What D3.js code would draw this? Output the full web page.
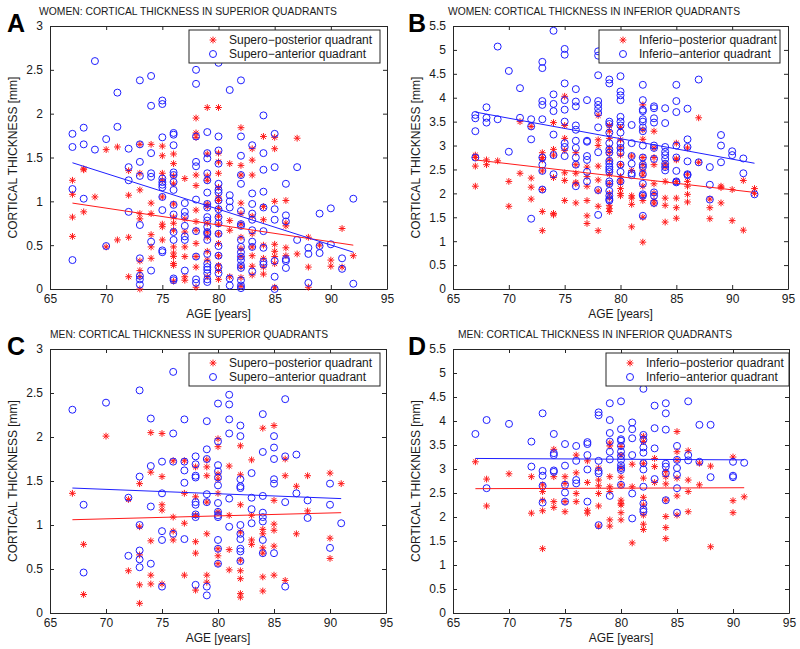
<!DOCTYPE html>
<html><head><meta charset="utf-8">
<script src="https://cdn.jsdelivr.net/npm/d3@7"></script>
<style>body{margin:0;background:#fff}svg{display:block}text{font-family:"Liberation Sans",Arial,sans-serif;fill:#1a1a1a}</style>
</head><body>
<script>
// ---------- DATA ----------
const xTicks = [65,70,75,80,85,90,95];
const yTicksSup = [0,0.5,1,1.5,2,2.5,3];
const yTicksInf = [0,0.5,1,1.5,2,2.5,3,3.5,4,4.5,5,5.5];
const titles = ["WOMEN: CORTICAL THICKNESS IN SUPERIOR QUADRANTS","WOMEN: CORTICAL THICKNESS IN INFERIOR QUADRANTS","MEN: CORTICAL THICKNESS IN SUPERIOR QUADRANTS","MEN: CORTICAL THICKNESS IN INFERIOR QUADRANTS"];
const letters = ["A","B","C","D"];
const legendSup = ["Supero\u2212posterior quadrant","Supero\u2212anterior quadrant"];
const legendInf = ["Inferio\u2212posterior quadrant","Inferio\u2212anterior quadrant"];
const xLabel = "AGE [years]";
const yLabel = "CORTICAL THICKNESS [mm]";

// Women, superior: [age, [values...]]
const wSupPost = [[67,[1.24,1.08,0.82,0.6]],[68,[1.37,1.36,0.88]],[69,[1.05]],[70,[1.59,0.48]],[71,[1.62,0.56]],[72,[1.35,1.07,0.59,0.14]],[73,[1.65,1.32,1.13,0.86,0.8,0.32,0.21,0.14,0.0]],[74,[1.65,0.98,0.86,0.62,0.48,0.35]],[75,[1.63,1.52,1.32,1.24,1.05,0.74,0.71,0.56]],[76,[1.54,1.43,1.29,1.2,0.97,0.82,0.75,0.67,0.48,0.41,0.37,0.29,0.27,0.09]],[77,[1.26,0.8,0.65,0.48,0.37,0.14,0.1]],[78,[1.95,1.78,1.73,1.3,1.18,0.9,0.77,0.67,0.52,0.37,0.25,0.02]],[79,[2.07,1.54,1.29,1.24,0.97,0.94,0.75,0.65,0.59,0.43,0.33,0.14]],[80,[2.07,1.55,1.45,1.32,1.16,1.05,1.01,0.92,0.83,0.74,0.63,0.52,0.38,0.27,0.21,0.11]],[81,[1.43,0.78,0.67,0.14]],[82,[1.84,1.41,1.3,0.98,0.86,0.74,0.59,0.46,0.37,0.25,0.13,0.03]],[83,[1.6,1.47,1.3,0.83,0.63,0.48,0.38,0.26,0.16]],[84,[1.74,0.94,0.79,0.5,0.35,0.25,0.17]],[85,[1.73,1.6,1.0,0.51,0.43,0.37,0.29,0.02]],[86,[1.01,0.75,0.72,0.47,0.38]],[87,[1.72,0.4]],[88,[0.59,0.25,0.02]],[89,[0.5]],[90,[0.33,0.26]],[91,[0.69,0.25]],[92,[0.38]]];
const wSupAnt = [[67,[1.77,1.62,1.14,0.33]],[68,[1.84,1.65,1.03]],[69,[2.6,1.59]],[70,[1.71,0.49]],[71,[2.24,1.85]],[72,[1.6,1.39,1.24,0.88]],[73,[2.38,1.65,1.45,1.29,0.73,0.35,0.15,0.11,0.05]],[74,[2.43,2.09,1.55,1.32,1.28,0.54,0.21]],[75,[2.15,2.11,1.73,1.26,1.22,1.19,1.16,1.05,0.9,0.44,0.42]],[76,[1.78,1.76,1.64,1.33,1.3,1.22,1.13,0.96,0.85,0.65,0.56,0.12,0.1]],[77,[0.98,0.88,0.83,0.72,0.6,0.56,0.21]],[78,[2.5,2.34,1.74,1.45,1.4,1.02,0.66,0.37,0.11,0.07]],[79,[1.79,1.55,1.49,1.32,1.24,1.1,0.97,0.93,0.82,0.78,0.71,0.65,0.63,0.56,0.4,0.29,0.25,0.22,0.18,0.11,0.08]],[80,[2.58,1.74,1.58,1.43,1.2,1.13,1.1,1.01,0.91,0.82,0.75,0.63,0.49,0.38,0.25,0.18]],[81,[2.27,1.07,1.0,0.93,0.12,0.04]],[82,[2.38,1.74,1.52,1.3,1.2,0.89,0.74,0.72,0.56,0.48,0.42,0.37,0.33,0.27,0.24,0.1,0.04,0.01]],[83,[1.64,1.09,0.97,0.86,0.79,0.67,0.54,0.48,0.2]],[84,[1.98,1.55,1.36,1.11,0.93,0.66,0.47,0.31,0.28]],[85,[1.77,1.39,0.91,0.79,0.32,0.14,0.0]],[86,[1.2,0.84,0.77,0.34,0.32,0.24]],[87,[1.39,0.56]],[88,[0.47,0.4,0.07]],[89,[0.86,0.49,0.41]],[90,[0.92,0.51]],[91,[0.35,0.23]],[92,[1.03,0.06]]];
const wSupFitPost = [[67,0.98],[92,0.5]];
const wSupFitAnt = [[67,1.44],[92,0.42]];

// Women, inferior
const wInfPost = [[67,[2.8,2.75,2.57,2.15]],[68,[2.7,2.6]],[69,[2.68]],[70,[2.25,1.73]],[71,[3.5,2.42]],[72,[3.4,2.32,2.13,1.88]],[73,[2.85,2.75,2.7,2.47,2.08,1.62,1.22]],[74,[3.48,2.92,2.8,2.33,1.58,1.55]],[75,[4.03,3.42,3.15,2.9,2.43,2.27,1.85]],[76,[2.85,2.6,2.42,2.23,2.2,1.8]],[77,[2.55,2.35,2.15,1.85,1.53,1.37]],[78,[3.63,3.12,3.0,2.57,2.28,2.05,1.73,1.22]],[79,[3.42,3.3,3.15,2.95,2.85,2.7,2.4,2.2,2.0,1.9,1.75,1.68,1.62]],[80,[3.38,3.12,2.95,2.8,2.6,2.35,2.28,2.22,2.1,2.0,1.95]],[81,[2.78,2.48,1.95,1.9,1.77,1.3]],[82,[3.85,3.33,3.13,2.75,2.6,2.47,2.38,2.15,1.95,1.85,1.5,0.98]],[83,[3.3,2.95,2.75,2.6,2.2,2.0,1.85,1.78]],[84,[2.62,2.55,2.25,1.9,1.75,1.4]],[85,[3.05,2.72,2.7,2.25,1.9,1.7,1.48]],[86,[2.95,2.4,2.25,2.15,1.98,1.82]],[87,[3.58,2.65]],[88,[1.88,1.7,1.47]],[89,[2.15,2.12,1.8]],[90,[2.08,1.43]],[91,[2.27,1.23]],[92,[2.1,2.0]]];
const wInfAnt = [[67,[3.64,3.57,3.3,2.75]],[68,[3.8,3.58,3.48]],[69,[5.07,3.55]],[70,[4.56,2.87]],[71,[4.2,3.58]],[72,[3.55,3.4,3.13,1.47]],[73,[4.75,4.62,3.93,3.85,3.55,2.75,2.6,2.47,2.08]],[74,[5.4,4.07,3.87,3.72,3.23,2.8,2.4]],[75,[5.02,4.9,4.3,3.95,3.75,3.5,3.05,2.97,2.78]],[76,[4.18,3.92,3.82,3.42,3.33,3.1,2.95,2.75,2.6,2.15]],[77,[3.95,3.1,3.08,2.78,2.7,2.45,2.25]],[78,[4.97,4.88,4.47,3.93,3.85,3.77,3.68,3.38,2.86,2.07,1.55]],[79,[4.38,4.3,3.5,3.45,3.27,3.05,2.92,2.85,2.68,2.62,2.55,2.5,2.45,2.25,2.2,2.05,1.95,1.88,1.85]],[80,[4.45,4.13,4.05,3.95,3.6,3.5,3.42,3.27,3.05,2.95,2.85,2.6,2.45,2.25]],[81,[3.43,3.05,2.78,2.62,2.42,2.38]],[82,[4.27,3.95,3.75,3.72,3.55,3.5,3.38,3.3,3.0,2.75,2.6,2.55,2.4,2.2,1.98,1.95,1.53]],[83,[3.82,3.78,3.57,3.48,3.0,2.95,2.72,2.02,1.95,1.8]],[84,[3.78,3.47,2.97,2.87,2.8,2.72,2.62,2.55,2.48]],[85,[4.27,3.93,3.7,3.0,2.75,2.47,2.25,2.23]],[86,[3.77,3.13,2.97,2.67,2.4,2.38]],[87,[4.38,2.65]],[88,[2.55,2.18,1.87]],[89,[3.22,3.0,2.65]],[90,[2.88,2.8]],[91,[2.73,2.42]],[92,[1.98]]];
const wInfFitPost = [[67,2.7],[92,2.02]];
const wInfFitAnt = [[67,3.7],[92,2.63]];

// Men, superior
const mSupPost = [[67,[1.36]],[68,[0.78,0.21]],[70,[2.01]],[72,[1.29,0.48]],[73,[1.47,0.98,0.66,0.32,0.11]],[74,[2.05,1.6,0.82,0.43,0.33]],[75,[2.04,1.55,1.23,1.17,0.33]],[76,[1.73,1.09,0.93,0.83]],[77,[1.73,1.36,1.02,0.43]],[78,[1.66,1.32,1.11,0.81,0.68,0.26]],[79,[1.74,1.66,1.56,1.26,0.9,0.43,0.35]],[80,[1.98,1.89,1.58,1.52,1.36,1.15,0.73,0.65,0.56]],[81,[1.67,1.11,0.72,0.49]],[82,[1.9,1.57,1.23,0.92,0.6,0.48,0.39,0.22,0.18]],[83,[1.74,1.11,0.83,0.78]],[84,[2.1,0.95,0.9,0.74,0.68,0.41,0.25]],[85,[2.13,1.28,1.01,0.94,0.76,0.43]],[86,[1.75,1.56,0.37]],[87,[1.44,0.9]],[88,[1.56,1.16]],[90,[1.59,0.85,0.62]],[91,[1.47]]];
const mSupAnt = [[67,[2.31]],[68,[1.23,0.46]],[70,[2.39]],[72,[1.31,0.65]],[73,[2.53,1.55,1.0,0.71,0.61,0.52]],[74,[2.21,1.67,1.21,0.56]],[75,[1.72,1.36,0.93,0.83,0.3]],[76,[2.74,2.04,1.72,0.9]],[77,[2.2,1.72,1.62,1.48,0.84]],[78,[1.78,1.69,1.56,1.54,1.26,1.23,1.12,1.09,0.32]],[79,[2.18,1.86,1.75,1.35,1.26,0.3,0.2]],[80,[2.38,1.95,1.68,1.61,1.54,1.45,1.25,1.15,1.11,1.09,0.83,0.73,0.56]],[81,[2.48,2.37,2.2,2.04,1.3,0.98]],[82,[2.13,2.01,1.52,1.44,1.42,1.0,0.9,0.84,0.73,0.7,0.59]],[83,[1.59,1.31,1.18,1.02]],[84,[2.26,1.83,1.33,1.14,1.09,1.04,0.83,0.68]],[85,[2.01,1.88,1.75,1.52,1.47,0.68]],[86,[2.43,1.78,1.26,0.3]],[87,[1.8,1.36]],[88,[1.28,1.08]],[90,[1.47,1.23,0.74]],[91,[1.02]]];
const mSupFitPost = [[67,1.06],[91,1.14]];
const mSupFitAnt = [[67,1.42],[91,1.3]];

// Men, inferior
const mInfPost = [[67,[3.15]],[68,[2.79,2.23]],[70,[2.9]],[72,[2.84,2.08]],[73,[2.67,2.53,2.35,2.13,1.34]],[74,[3.41,2.84,2.32,2.2]],[75,[2.84,2.7,2.32,2.11]],[76,[3.29,2.92,2.49,2.32]],[77,[3.17,2.72,2.14,2.08]],[78,[3.02,2.77,2.65,2.49,2.23,1.81]],[79,[3.54,3.48,2.84,2.63,2.53,1.94,1.81]],[80,[3.47,3.29,3.02,2.83,2.67,2.35,2.28,2.25,2.09,1.94]],[81,[3.1,2.63,1.46]],[82,[3.68,3.57,3.11,2.81,2.41,2.25,2.04,1.85,1.74]],[83,[3.22,3.05,2.72]],[84,[2.95,2.84,2.69,2.35,2.01,1.78,1.55]],[85,[3.78,3.36,3.19,2.81,2.44,2.04]],[86,[3.38,2.77,2.53,2.11]],[87,[3.12,2.67]],[88,[3.06,1.38]],[90,[3.25,2.34,2.09]],[91,[2.42]]];
const mInfAnt = [[67,[3.73]],[68,[4.02,2.6]],[70,[3.94]],[72,[3.57,3.05]],[73,[4.16,2.96,2.86,2.65,2.3]],[74,[3.73,3.33,3.29,2.97,2.94]],[75,[3.52,3.07,2.67,2.51,2.32]],[76,[3.48,3.17,2.77,2.7]],[77,[3.56,3.52,3.29,2.99,2.32]],[78,[4.18,4.12,3.17,2.96,2.91,1.83]],[79,[4.37,4.02,3.75,3.57,3.36,3.2,2.44]],[80,[4.41,3.83,3.62,3.59,3.48,3.36,3.27,3.19,3.08,3.02,2.98,2.67]],[81,[3.97,3.83,3.64,3.29,2.49,1.97]],[82,[4.67,3.71,3.61,3.45,3.34,3.12,2.99,2.63,2.28,2.16,2.11]],[83,[4.32,3.85,3.43,2.79]],[84,[4.37,4.16,3.82,3.11,3.05,2.91,2.35]],[85,[3.48,3.19,3.02,2.88,2.6,2.09]],[86,[4.41,3.29,3.18]],[87,[3.92,3.15]],[88,[3.92,2.83]],[90,[3.15,2.86,2.83]],[91,[3.13]]];
const mInfFitPost = [[67,2.59],[91,2.61]];
const mInfFitAnt = [[67,3.22],[91,3.19]];

// ---------- DRAW ----------
const RED = "#ff1a1a", BLUE = "#1f1fff", INK = "#262626";
const svg = d3.select("body").append("svg").attr("width",800).attr("height",649);

const panels = [
  {i:0, x:50, y:26, w:337, h:263, yMax:3, yT:yTicksSup, post:wSupPost, ant:wSupAnt, fp:wSupFitPost, fa:wSupFitAnt, leg:legendSup, lg:{x:189,y:30,w:191}, tx:39, tw:298, lx:7},
  {i:1, x:453, y:26, w:335, h:263, yMax:5.5, yT:yTicksInf, post:wInfPost, ant:wInfAnt, fp:wInfFitPost, fa:wInfFitAnt, leg:legendInf, lg:{x:599,y:30,w:181}, tx:448, tw:292, lx:408},
  {i:2, x:50, y:349, w:336, h:264, yMax:3, yT:yTicksSup, post:mSupPost, ant:mSupAnt, fp:mSupFitPost, fa:mSupFitAnt, leg:legendSup, lg:{x:189,y:353,w:191}, tx:50, tw:278, lx:7},
  {i:3, x:453, y:349, w:336, h:264, yMax:5.5, yT:yTicksInf, post:mInfPost, ant:mInfAnt, fp:mInfFitPost, fa:mInfFitAnt, leg:legendInf, lg:{x:606,y:353,w:183}, tx:458, tw:274, lx:408}
];

function asterisk(a){ const b=a*0.72;
  return `M${-a},0L${a},0M0,${-a}L0,${a}M${-b},${-b}L${b},${b}M${-b},${b}L${b},${-b}`; }

panels.forEach(p=>{
  const g = svg.append("g");
  const xs = d3.scaleLinear().domain([65,95]).range([p.x, p.x+p.w]);
  const ys = d3.scaleLinear().domain([0,p.yMax]).range([p.y+p.h, p.y]);

  // title + letter
  g.append("text").attr("x",p.tx).attr("y",p.y-11).attr("font-size",11)
    .attr("textLength",p.tw).attr("lengthAdjust","spacingAndGlyphs").text(titles[p.i]);
  g.append("text").attr("x",p.lx).attr("y",p.y+6).attr("font-size",25).attr("font-weight","bold")
    .style("fill","#000").text(letters[p.i]);

  // axes (inner ticks, mirrored)
  const ax = (axis, tr) => g.append("g").attr("transform",tr).call(axis)
      .call(s=>{s.select(".domain").attr("stroke",INK); s.selectAll(".tick line").attr("stroke",INK);});
  const bottom = ax(d3.axisBottom(xs).tickValues(xTicks).tickSizeInner(-4).tickSizeOuter(0).tickPadding(5).tickFormat(d3.format("d")), `translate(0,${p.y+p.h})`);
  bottom.selectAll("text").attr("font-size",12).attr("font-family","Liberation Sans, Arial, sans-serif").style("fill","#1a1a1a");
  ax(d3.axisTop(xs).tickValues(xTicks).tickSizeInner(-4).tickSizeOuter(0).tickFormat(""), `translate(0,${p.y})`);
  const left = ax(d3.axisLeft(ys).tickValues(p.yT).tickSizeInner(-4).tickSizeOuter(0).tickPadding(7).tickFormat(d=>String(d)), `translate(${p.x},0)`);
  left.selectAll("text").attr("font-size",12).attr("font-family","Liberation Sans, Arial, sans-serif").style("fill","#1a1a1a");
  ax(d3.axisRight(ys).tickValues(p.yT).tickSizeInner(-4).tickSizeOuter(0).tickFormat(""), `translate(${p.x+p.w},0)`);
  g.selectAll(".domain").attr("stroke-width",1);

  // axis labels
  g.append("text").attr("x",p.x+p.w/2).attr("y",p.y+p.h+29).attr("text-anchor","middle").attr("font-size",12).text(xLabel);
  g.append("text").attr("transform",`translate(${p.x-33},${p.y+p.h/2}) rotate(-90)`).attr("text-anchor","middle").attr("font-size",12).text(yLabel);

  // points
  const flat = arr => arr.flatMap(([a,vals])=>vals.map(v=>[a,v]));
  g.append("g").selectAll("path").data(flat(p.post)).join("path")
    .attr("transform",d=>`translate(${xs(d[0])},${ys(d[1])})`).attr("d",asterisk(3.4))
    .attr("stroke",RED).attr("stroke-width",1).attr("fill","none");
  g.append("g").selectAll("circle").data(flat(p.ant)).join("circle")
    .attr("cx",d=>xs(d[0])).attr("cy",d=>ys(d[1])).attr("r",3.5)
    .attr("stroke",BLUE).attr("stroke-width",1).attr("fill","none");

  // fit lines
  const line = d3.line().x(d=>xs(d[0])).y(d=>ys(d[1]));
  g.append("path").attr("d",line(p.fp)).attr("stroke",RED).attr("fill","none").attr("stroke-width",1);
  g.append("path").attr("d",line(p.fa)).attr("stroke",BLUE).attr("fill","none").attr("stroke-width",1);

  // legend
  const L = g.append("g").attr("transform",`translate(${p.lg.x},${p.lg.y})`);
  L.append("rect").attr("width",p.lg.w).attr("height",33).attr("fill","#fff").attr("stroke",INK).attr("stroke-width",1);
  L.append("path").attr("transform","translate(24,10)").attr("d",asterisk(3.4)).attr("stroke",RED).attr("fill","none");
  L.append("circle").attr("cx",24).attr("cy",24).attr("r",3.5).attr("stroke",BLUE).attr("fill","none");
  L.append("text").attr("x",40).attr("y",14).attr("font-size",12).text(p.leg[0]);
  L.append("text").attr("x",40).attr("y",28).attr("font-size",12).text(p.leg[1]);
});
</script>
</body></html>
